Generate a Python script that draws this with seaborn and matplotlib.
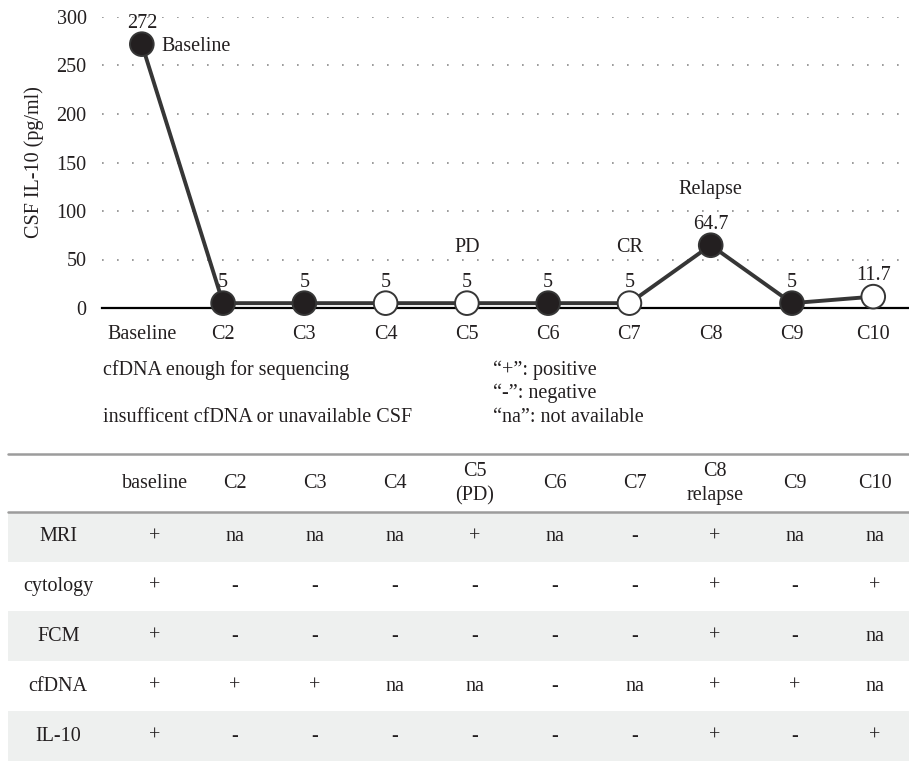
import matplotlib
matplotlib.use('Agg')
import matplotlib.pyplot as plt
import seaborn as sns
import pandas as pd
import numpy as np

# Dados do gráfico
ciclos = ['Baseline', 'C2', 'C3', 'C4', 'C5', 'C6', 'C7', 'C8', 'C9', 'C10']
il10 = [272, 5, 5, 5, 5, 5, 5, 64.7, 5, 11.7]
rotulos_valor = ['272', '5', '5', '5', '5', '5', '5', '64.7', '5', '11.7']
cfdna_suficiente = [True, True, True, False, False, True, False, True, True, False]
eventos = {'C5': 'PD', 'C7': 'CR', 'C8': 'Relapse'}
yticks = [0, 50, 100, 150, 200, 250, 300]

# Dados da tabela
linhas = ['MRI', 'cytology', 'FCM', 'cfDNA', 'IL-10']
colunas = ['baseline', 'C2', 'C3', 'C4', 'C5\n(PD)', 'C6', 'C7', 'C8\nrelapse', 'C9', 'C10']
mri = ['+', 'na', 'na', 'na', '+', 'na', '-', '+', 'na', 'na']
citologia = ['+', '-', '-', '-', '-', '-', '-', '+', '-', '+']
fcm = ['+', '-', '-', '-', '-', '-', '-', '+', '-', 'na']
cfdna = ['+', '+', '+', 'na', 'na', '-', 'na', '+', '+', 'na']
il10_status = ['+', '-', '-', '-', '-', '-', '-', '+', '-', '+']
tabela = [mri, citologia, fcm, cfdna, il10_status]

sns.set_theme(style='white')
plt.rcParams['font.family'] = ['Liberation Serif', 'DejaVu Serif']
cor_texto = '#231f20'
fs = 14.5

df = pd.DataFrame({'pos': np.arange(len(ciclos)), 'il10': il10, 'cheio': cfdna_suficiente})

W, H = 909, 761
fig = plt.figure(figsize=(W / 100, H / 100), dpi=100)

# Gráfico de linha
ax = fig.add_axes([102 / W, 1 - 308 / H, (W - 102) / W, (308 - 17) / H])
sns.lineplot(data=df, x='pos', y='il10', color='#363636', lw=2.8, ax=ax, clip_on=False, zorder=3)
sns.scatterplot(data=df, x='pos', y='il10', hue='cheio', palette={True: '#231f20', False: 'white'},
                s=290, edgecolor='#363636', linewidth=1.4, legend=False, ax=ax, clip_on=False, zorder=4)

ax.set_xlim(-0.49, 9.44)
ax.set_ylim(0, 300)
ax.set_yticks(yticks)
ax.set_xticks(df['pos'])
ax.set_xticklabels(ciclos)
ax.tick_params(axis='both', length=0, labelsize=fs, colors=cor_texto)
ax.tick_params(axis='x', pad=12)
ax.tick_params(axis='y', pad=11)
ax.set_xlabel('')
ax.set_ylabel('CSF IL-10 (pg/ml)', fontsize=fs, color=cor_texto, labelpad=9)
ax.grid(axis='y', linestyle=(0, (1, 8)), color='#8a8a8a', lw=1.2)
ax.grid(axis='x', visible=False)
for lado in ['left', 'right', 'top']:
    ax.spines[lado].set_visible(False)
ax.spines['bottom'].set_color('black')
ax.spines['bottom'].set_linewidth(1.6)
ax.spines['bottom'].set_zorder(2)

for i, (v, t) in enumerate(zip(il10, rotulos_valor)):
    ax.annotate(t, (i, v), xytext=(0, 15), textcoords='offset points', ha='center', va='center',
                fontsize=fs, color=cor_texto)
for c, t in eventos.items():
    i = ciclos.index(c)
    ax.annotate(t, (i, il10[i]), xytext=(0, 40), textcoords='offset points', ha='center', va='center',
                fontsize=fs, color=cor_texto)
ax.annotate('Baseline', (0, il10[0]), xytext=(14, -2), textcoords='offset points', ha='left', va='center',
            fontsize=fs, color=cor_texto)

# Legenda em texto
fig.text(103 / W, 1 - 370 / H, 'cfDNA enough for sequencing', fontsize=fs, color=cor_texto, va='center')
fig.text(103 / W, 1 - 417 / H, 'insufficent cfDNA or unavailable CSF', fontsize=fs, color=cor_texto, va='center')
fig.text(493 / W, 1 - 370 / H, '\u201c+\u201d: positive', fontsize=fs, color=cor_texto, va='center')
fig.text(493 / W, 1 - 393 / H, '\u201c-\u201d: negative', fontsize=fs, color=cor_texto, va='center')
fig.text(493 / W, 1 - 417 / H, '\u201cna\u201d: not available', fontsize=fs, color=cor_texto, va='center')

# Tabela
axt = fig.add_axes([0, 0, 1, (H - 453) / H])
axt.set_xlim((0 - 155) / 80, (W - 155) / 80)
cab = 59 / 50
axt.set_ylim(len(linhas), -cab)
axt.axis('off')
x0 = 8 / W
for r in range(len(linhas)):
    if r % 2 == 0:
        axt.axhspan(r, r + 1, xmin=x0, xmax=1, color='#eef0ef', lw=0, zorder=0)
axt.axhline(-cab + 0.02, xmin=x0, xmax=1, color='#9c9c9c', lw=1.8)
axt.axhline(0, xmin=x0, xmax=1, color='#9c9c9c', lw=1.8)

for j, c in enumerate(colunas):
    axt.text(j, -cab / 2 + 0.03, c, ha='center', va='center', fontsize=fs, color=cor_texto, linespacing=1.35)
for r, (nome, vals) in enumerate(zip(linhas, tabela)):
    axt.text(-1.21, r + 0.5, nome, ha='center', va='center', fontsize=fs, color=cor_texto)
    for j, v in enumerate(vals):
        axt.text(j, r + 0.5, v, ha='center', va='center', fontsize=fs, color=cor_texto)

plt.savefig('out.png', dpi=100)
plt.close()
